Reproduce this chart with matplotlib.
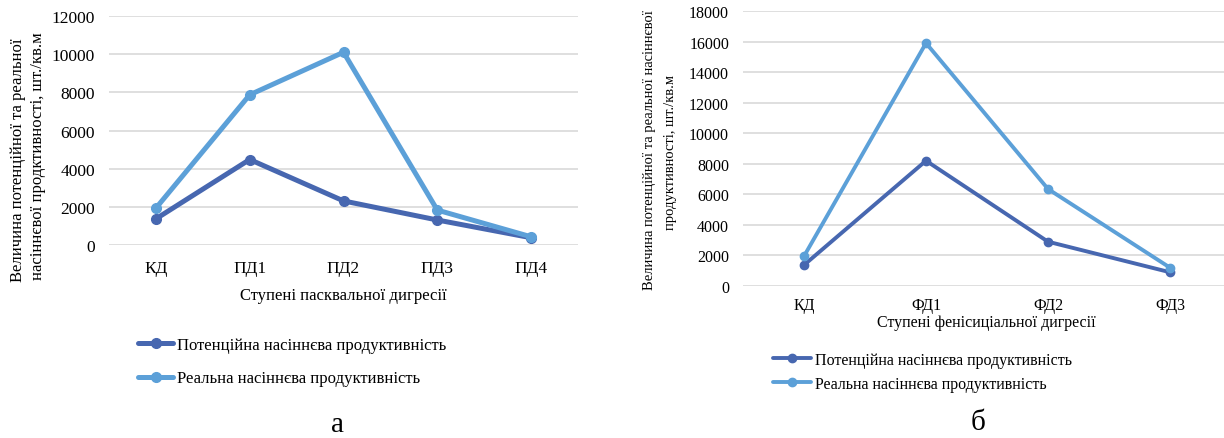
import numpy as np
import matplotlib
matplotlib.use('Agg')
import matplotlib.pyplot as plt

plt.rcParams['font.family'] = ['Liberation Serif', 'DejaVu Serif']

# data, panel a
cats_a = ['КД', 'ПД1', 'ПД2', 'ПД3', 'ПД4']
pot_a = [1370, 4480, 2310, 1310, 380]
real_a = [1930, 7870, 10100, 1830, 430]

# data, panel b
cats_b = ['КД', 'ФД1', 'ФД2', 'ФД3']
pot_b = [1370, 8200, 2900, 900]
real_b = [1950, 15900, 6350, 1200]

lbl_pot = 'Потенційна насіннєва продуктивність'
lbl_real = 'Реальна насіннєва продуктивність'
c_pot = '#4767b0'
c_real = '#5ca0d8'
grid_c = '#d9d9d9'

W, H = 1224, 439
fig = plt.figure(figsize=(W/100, H/100), dpi=100)

def box(x0, x1, ytop, ybot):
    return [x0/W, 1-ybot/H, (x1-x0)/W, (ybot-ytop)/H]

def style(ax, ymax, step, fs):
    for s in ax.spines.values():
        s.set_visible(False)
    ax.set_ylim(0, ymax)
    ax.set_yticks(np.arange(0, ymax+1, step))
    ax.yaxis.grid(True, color=grid_c, lw=1.2)
    ax.set_axisbelow(True)
    ax.tick_params(length=0, labelsize=fs)

# ---- a ----
ax1 = fig.add_axes(box(109, 578, 17, 246))
x = np.arange(len(cats_a))
ax1.plot(x, pot_a, color=c_pot, lw=3.6, marker='o', ms=7, label=lbl_pot, solid_capstyle='round')
ax1.plot(x, real_a, color=c_real, lw=3.6, marker='o', ms=7, label=lbl_real, solid_capstyle='round')
ax1.set_xlim(-0.5, len(cats_a)-0.5)
style(ax1, 12000, 2000, 12.5)
ax1.set_xticks(x)
ax1.set_xticklabels(cats_a)
ax1.tick_params(axis='y', pad=10)
ax1.tick_params(axis='x', pad=11)
fig.text(343/W, 1-296/H, 'Ступені пасквальної дигресії', ha='center', va='center', fontsize=12)
fig.text(18/W, 1-160/H, 'Величина потенційної та реальної', rotation=90, ha='center', va='center', fontsize=12)
fig.text(38/W, 1-156/H, 'насіннєвої продктивності, шт./кв.м', rotation=90, ha='center', va='center', fontsize=12)
ax1.legend(loc='upper left', bbox_to_anchor=(138/W, 1-338/H), bbox_transform=fig.transFigure,
           frameon=False, fontsize=12, borderpad=0, borderaxespad=0, handlelength=2.1,
           handletextpad=0.25, labelspacing=1.05)
fig.text(337/W, 1-425/H, 'а', ha='center', va='center', fontsize=21)

# ---- b ----
ax2 = fig.add_axes(box(743, 1224, 12, 287))
xb = np.arange(len(cats_b))
ax2.plot(xb, pot_b, color=c_pot, lw=2.8, marker='o', ms=6, label=lbl_pot, solid_capstyle='round')
ax2.plot(xb, real_b, color=c_real, lw=2.8, marker='o', ms=6, label=lbl_real, solid_capstyle='round')
ax2.set_xlim(-0.5, -0.5 + (1224-743)/122)
style(ax2, 18000, 2000, 11.5)
ax2.set_xticks(xb)
ax2.set_xticklabels(cats_b)
ax2.tick_params(axis='y', pad=10)
ax2.tick_params(axis='x', pad=8)
fig.text(986/W, 1-323/H, 'Ступені фенісиціальної дигресії', ha='center', va='center', fontsize=11.5)
fig.text(650/W, 1-150/H, 'Величина потенційної та реальної насіннєвої', rotation=90, ha='center', va='center', fontsize=10.5)
fig.text(670/W, 1-152/H, 'продуктивності, шт./кв.м', rotation=90, ha='center', va='center', fontsize=10.5)
ax2.legend(loc='upper left', bbox_to_anchor=(773/W, 1-353/H), bbox_transform=fig.transFigure,
           frameon=False, fontsize=11.5, borderpad=0, borderaxespad=0, handlelength=2.4,
           handletextpad=0.2, labelspacing=0.5)
fig.text(978/W, 1-423/H, 'б', ha='center', va='center', fontsize=21)

plt.savefig('out.png', dpi=100)
